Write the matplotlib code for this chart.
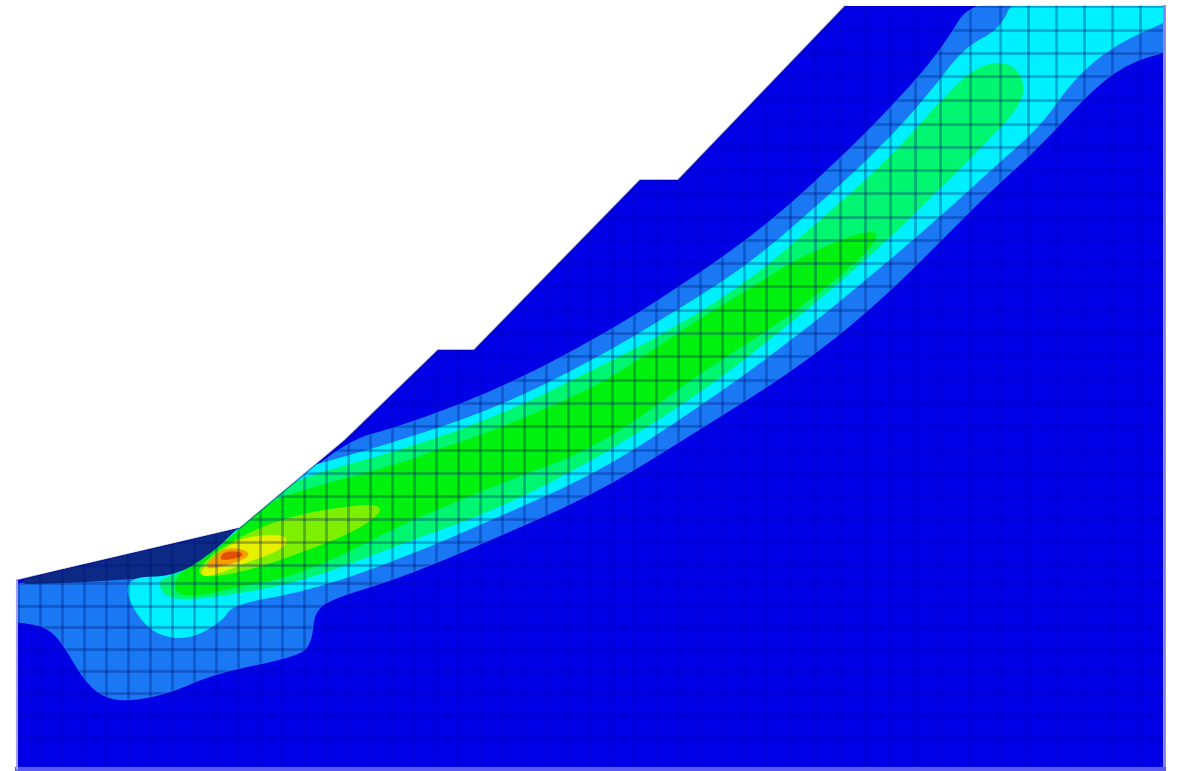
# contour bands of the slope model, outlines (pixel coords)
from matplotlib import pyplot as plt
from matplotlib.patches import Polygon, PathPatch
from matplotlib.path import Path

domain = [(18,580),(240,528),(345,440),(438,350),(474,350),(640,180),(678,180),(845,6),
          (1163,6),(1163,768),(18,768)]

band_blue = [(976,-6),(944,48),(900,100),(830,170),(760,232),(680,288),(600,338),(500,390),(400,428),
             (345,442),(255,520),(240,533),(222,538),(60,578),(0,587),(0,620),(30,622),(50,628),(65,645),(85,680),(105,697),(130,700),
             (170,692),(215,672),(300,655),(311,640),(313,612),(330,598),(400,577),(500,535),(600,490),(700,428),
             (800,365),(880,300),(950,230),(990,190),(1040,145),(1090,90),(1130,60),(1180,48),(1180,-6)]

wedge_navy = [(0,583),(240,526),(250,526),(205,560),(187,573),(130,578),(60,582)]

band_cyan = [(1016,-6),(1002,30),(965,48),(930,95),(880,150),(820,205),(750,265),(680,310),(600,358),
             (500,408),(400,442),(330,462),(300,470),(240,528),(205,562),(170,578),(135,578),(126,590),(140,618),
             (160,635),(190,638),(222,620),(232,603),(307,590),(400,558),(500,515),(600,470),(700,405),
             (790,340),(870,275),(940,215),(1000,160),(1040,125),(1075,75),(1120,40),(1180,15),(1180,-6)]

band_spring = [(1000,62),(975,70),(950,92),(890,160),(820,222),(750,282),(670,332),(600,368),(500,417),
               (400,452),(320,473),(280,490),(240,530),(205,562),(170,578),(158,582),(170,600),(230,594),
               (307,579),(400,543),(500,507),(600,455),(700,392),(780,330),(860,264),(930,197),(985,142),
               (1024,100),(1020,72)]

band_green = [(875,228),(800,258),(760,284),(700,320),(640,360),(600,386),(500,430),(440,450),(400,465),
              (307,490),(270,503),(243,528),(205,560),(175,577),(178,598),(240,586),(307,571),(400,524),
              (440,507),(500,482),(600,445),(700,371),(790,315),(875,245)]

band_lime = [(387,505),(340,508),(290,518),(250,533),(215,553),(193,577),(240,572),(300,552),(360,528)]

band_yellow = [(285,535),(245,538),(223,551),(198,575),(215,574),(250,560),(285,547)]

band_orange = [(252,553),(227,548),(213,559),(205,569),(235,562)]

band_red = [(245,554),(226,552),(220,559),(232,558)]

layers = [(band_blue, '#1a78f5'), (wedge_navy, '#0c2a85'), (band_cyan, '#00f0ff'),
          (band_spring, '#00f570'), (band_green, '#00f010'), (band_lime, '#7cf000'),
          (band_yellow, '#e6f000'), (band_orange, '#f5a000'), (band_red, '#e05000')]

grid_x = [18,40,62,84,106,128,150,172,194,216,238,260,282,304,326,348,370,392,414,436,458,480,502,524,
          546,568,590,612,634,656,678,700,722,744,766,790,815,840,865,890,915,940,970,1000,1028,1056,1084,1112,1140]
grid_y = [6,30,53,76,100,124,147,170,193,217,240,263,286,310,333,356,380,403,426,450,473,496,519,
          542,565,583,606,627,649,671,693,715,737]


def soft_path(pts):
    # quadratic curves through the edge midpoints so the bands do not look faceted
    mid = [((pts[i][0]+pts[(i+1) % len(pts)][0])/2, (pts[i][1]+pts[(i+1) % len(pts)][1])/2) for i in range(len(pts))]
    verts = [mid[-1]]
    codes = [Path.MOVETO]
    for i in range(len(pts)):
        verts += [pts[i], mid[i]]
        codes += [Path.CURVE3, Path.CURVE3]
    return Path(verts, codes)


fig = plt.figure(figsize=(11.77, 7.71), dpi=100)
ax = fig.add_axes([0, 0, 1, 1])
ax.set_xlim(0, 1177)
ax.set_ylim(771, 0)
ax.axis('off')

outline = Polygon(domain, closed=True, facecolor='#0000e6', edgecolor='none', zorder=1)
ax.add_patch(outline)

for k, (pts, col) in enumerate(layers):
    p = PathPatch(soft_path(pts), facecolor=col, edgecolor=col, linewidth=2, joinstyle='round', zorder=2+k)
    ax.add_patch(p)
    p.set_clip_path(outline)

# mesh: barely there on the blue ground, stronger inside the coloured band
blue_path = soft_path(band_blue)
for x in grid_x:
    l, = ax.plot([x, x], [0, 771], color='#0000a0', lw=2, alpha=0.2, zorder=20)
    l.set_clip_path(outline)
    l2, = ax.plot([x, x], [6, 768], color='#003040', lw=1.8, alpha=0.15, zorder=20)
    l2.set_clip_path(blue_path, ax.transData)
for y in grid_y:
    l, = ax.plot([0, 1177], [y, y], color='#0000a0', lw=2, alpha=0.2, zorder=20)
    l.set_clip_path(outline)
    l2, = ax.plot([18, 1163], [y, y], color='#003040', lw=1.8, alpha=0.15, zorder=20)
    l2.set_clip_path(blue_path, ax.transData)

# soft rim on the slope, periwinkle on the box sides
xs, ys = zip(*domain[:8])
ax.plot(xs, ys, color='#000070', lw=1.2, alpha=0.35, zorder=21)
ax.plot([1164, 1164], [6, 769], color='#8080f5', lw=2, zorder=21)
ax.plot([17, 1164], [769, 769], color='#5a5af0', lw=3, zorder=21)
ax.plot([17, 17], [580, 769], color='#a0a0f8', lw=1.5, zorder=21)

fig.savefig('out.png', dpi=100)
